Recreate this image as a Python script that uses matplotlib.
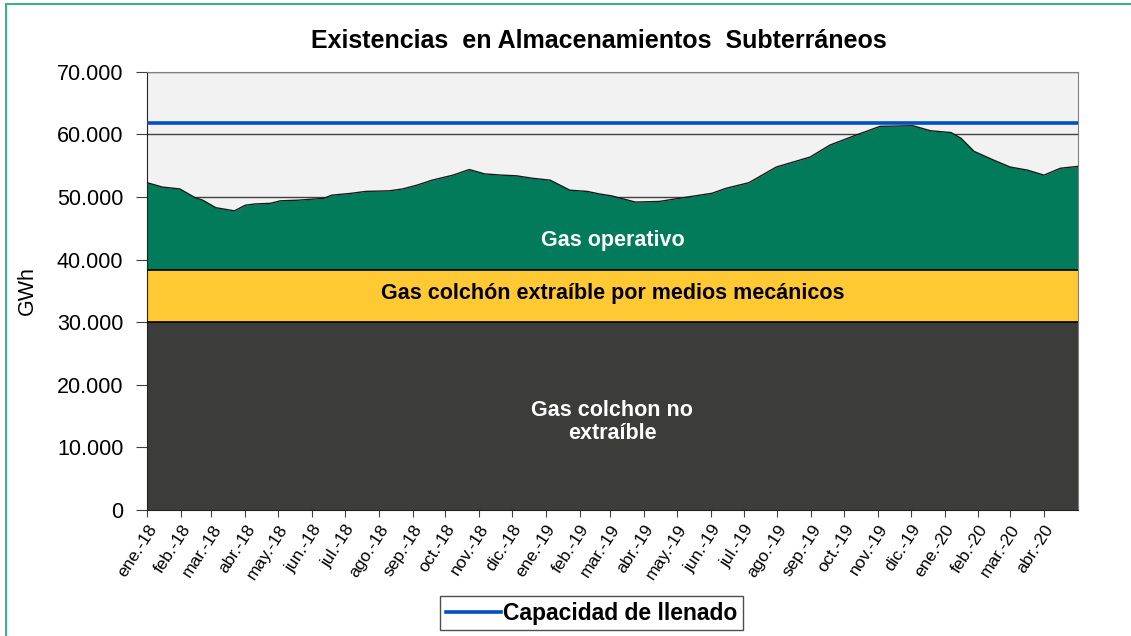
import pandas as pd
import matplotlib
matplotlib.use('Agg')
import matplotlib.pyplot as plt
from matplotlib.lines import Line2D

plt.rcParams['font.family'] = ['Liberation Sans', 'DejaVu Sans']

# existencias totales (GWh)
fechas = ['2018-01-01', '2018-01-15', '2018-01-31', '2018-02-14', '2018-02-21',
          '2018-03-05', '2018-03-22', '2018-04-01', '2018-04-10', '2018-04-24',
          '2018-05-03', '2018-05-19', '2018-06-12', '2018-06-19', '2018-07-07',
          '2018-07-20', '2018-08-11', '2018-08-23', '2018-09-05', '2018-09-19',
          '2018-10-08', '2018-10-23', '2018-11-06', '2018-11-22', '2018-12-05',
          '2018-12-20', '2019-01-05', '2019-01-23', '2019-02-08', '2019-02-19',
          '2019-03-02', '2019-03-24', '2019-04-15', '2019-05-03', '2019-06-02',
          '2019-06-15', '2019-07-06', '2019-07-31', '2019-08-31', '2019-09-18',
          '2019-10-12', '2019-11-03', '2019-12-03', '2019-12-19', '2020-01-07',
          '2020-01-16', '2020-01-28', '2020-02-15', '2020-03-01', '2020-03-17',
          '2020-04-01', '2020-04-16', '2020-05-02']
existencias = [52300, 51600, 51300, 49900, 49500,
               48300, 47800, 48700, 48900, 49000,
               49400, 49500, 49800, 50300, 50600,
               50900, 51000, 51300, 51900, 52700,
               53500, 54400, 53700, 53500, 53400,
               53000, 52700, 51100, 50900, 50500,
               50200, 49200, 49300, 49800, 50600,
               51400, 52300, 54800, 56400, 58300,
               59900, 61300, 61400, 60600, 60300,
               59400, 57300, 55900, 54800, 54300,
               53500, 54600, 54900]

colchon_no_extraible = 30000
colchon_mecanico = 38300
capacidad = 61800

meses = ['ene.', 'feb.', 'mar.', 'abr.', 'may.', 'jun.', 'jul.', 'ago.',
         'sep.', 'oct.', 'nov.', 'dic.']

x = pd.to_datetime(fechas)

fig = plt.figure(figsize=(11.31, 6.36), dpi=100)
ax = fig.add_axes([0.130, 0.198, 0.823, 0.689])
ax.set_facecolor('#F2F2F2')

ax.set_ylim(0, 70000)
ax.set_xlim(x[0], x[-1])
ax.set_yticks(range(0, 70001, 10000))
ax.yaxis.grid(True, color='#404040', lw=1)
ax.set_axisbelow(True)

ax.fill_between(x, colchon_mecanico, existencias, color='#027B5B', lw=0, zorder=2)
ax.plot(x, existencias, color='#1a1a1a', lw=1, zorder=3)
ax.fill_between(x, colchon_no_extraible, colchon_mecanico, color='#FFC933', lw=0, zorder=2)
ax.fill_between(x, 0, colchon_no_extraible, color='#3C3C3A', lw=0, zorder=2)
ax.axhline(colchon_mecanico, color='black', lw=1.2, zorder=3)
ax.axhline(colchon_no_extraible, color='black', lw=1.2, zorder=3)

linea, = ax.plot([x[0], x[-1]], [capacidad, capacidad], color='#0050C0', lw=2.6, zorder=4)

xm = x[0] + (x[-1] - x[0]) / 2
ax.text(xm, 43000, 'Gas operativo', color='white', fontsize=15.5, fontweight='bold',
        ha='center', va='center', zorder=5)
ax.text(xm, 34600, 'Gas colchón extraíble por medios mecánicos', color='black',
        fontsize=15.5, fontweight='bold', ha='center', va='center', zorder=5)
ax.text(xm, 14100, 'Gas colchon no\nextraíble', color='white', fontsize=15.5,
        fontweight='bold', ha='center', va='center', linespacing=1.15, zorder=5)

ticks = pd.date_range('2018-01-01', '2020-04-01', freq='MS')
ax.set_xticks(ticks)
ax.set_xticklabels([meses[t.month - 1] + '-' + t.strftime('%y') for t in ticks],
                   rotation=57, ha='right', rotation_mode='anchor', fontsize=12.5)
ax.yaxis.set_major_formatter(plt.FuncFormatter(lambda v, p: f'{int(v):,}'.replace(',', '.')))
ax.tick_params(axis='y', labelsize=15.5, length=8, color='#404040', pad=9)
ax.tick_params(axis='x', length=5, color='#404040')
ax.set_ylabel('GWh', fontsize=15.5, labelpad=14)

for s in ['top', 'right']:
    ax.spines[s].set_color('#808080')
for s in ['left', 'bottom']:
    ax.spines[s].set_color('#222222')
ax.spines['bottom'].set_zorder(6)

ax.set_title('Existencias  en Almacenamientos  Subterráneos', fontsize=18,
             fontweight='bold', pad=17, x=0.485)

leg = fig.legend([linea], ['Capacidad de llenado'], loc='center',
                 bbox_to_anchor=(0.523, 0.036), fancybox=False, edgecolor='#222222',
                 prop={'weight': 'bold', 'size': 16.5}, handlelength=2.4,
                 handletextpad=0.1, borderpad=0.25)
leg.get_frame().set_linewidth(1)

# marco verde exterior
fig.add_artist(Line2D([0.0057, 0.0057], [0, 0.994], color='#3FAF8C', lw=1.5))
fig.add_artist(Line2D([0.0057, 1.0], [0.994, 0.994], color='#3FAF8C', lw=1.5))

fig.savefig('out.png', dpi=100)
